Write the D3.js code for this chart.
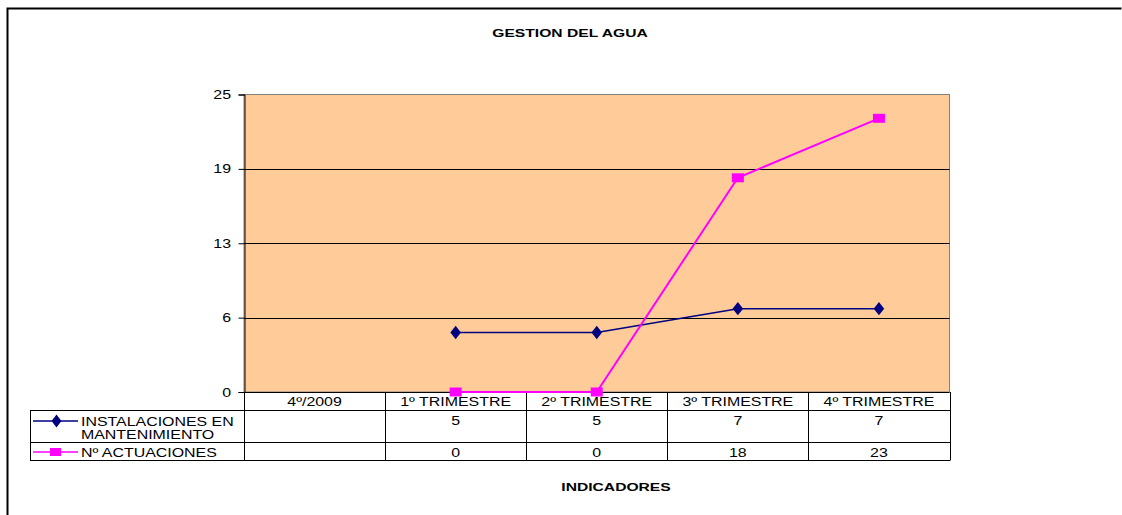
<!DOCTYPE html>
<html><head><meta charset="utf-8">
<script src="https://cdn.jsdelivr.net/npm/d3@7"></script>
<style>body{margin:0;background:#fff;}svg{display:block;font-family:"Liberation Sans",Arial,sans-serif;}</style>
</head><body>
<svg id="c" width="1122" height="515"></svg>
<script>
const categories = ["4º/2009","1º TRIMESTRE","2º TRIMESTRE","3º TRIMESTRE","4º TRIMESTRE"];
const seriesNames = ["INSTALACIONES EN|MANTENIMIENTO","Nº ACTUACIONES"];
const instalaciones = [null,5,5,7,7];
const actuaciones = [null,0,0,18,23];
const yTicks = [0,6.25,12.5,18.75,25];
const yTickLabels = ["0","6","13","19","25"];
const title = "GESTION DEL AGUA";
const xTitle = "INDICADORES";

const svg = d3.select("#c");
const L=244,R=949.5,T=94.5,B=392;
const x = d3.scaleBand().domain(categories).range([L,R]);
const y = d3.scaleLinear().domain([0,25]).range([B,T]);
const SX=1.18, SXB=1.36, FS=13.5, FSB=11.5;

function txt(g,tx,ty,s,opts={}){
  const t=g.append("text").attr("transform",`translate(${tx},${ty}) scale(${opts.bold?SXB:SX},1)`)
    .attr("font-size",opts.bold?FSB:FS).attr("text-anchor",opts.anchor||"middle").attr("fill","#000").text(s);
  if(opts.bold) t.attr("font-weight","bold");
  return t;
}

// outer border
svg.append("path").attr("d","M7.5,530V8.5H1121.5").attr("fill","none").attr("stroke","#000").attr("stroke-width",2);

txt(svg,570,37,title,{bold:true});
txt(svg,616,491,xTitle,{bold:true});

svg.append("rect").attr("x",L).attr("y",T).attr("width",R-L).attr("height",B-T).attr("fill","#FFCC99").attr("stroke","#808080");

// gridlines
svg.append("g").selectAll("line").data(yTicks.slice(1,-1)).join("line")
  .attr("x1",L).attr("x2",R).attr("y1",d=>Math.round(y(d))+0.5).attr("y2",d=>Math.round(y(d))+0.5).attr("stroke","#000");

// y axis
const yAxis = d3.axisLeft(y).tickValues(yTicks).tickFormat("").tickSize(6);
const ga = svg.append("g").attr("transform",`translate(${L+0.5},0)`).call(yAxis);
ga.select(".domain").attr("stroke","#000");
yTicks.forEach((v,i)=>txt(svg,231,y(v)+4.5,yTickLabels[i],{anchor:"end"}));

// table
const rowsY=[392,410,442,460];
const tbl = svg.append("g").attr("stroke","#000").attr("fill","none");
tbl.append("line").attr("x1",L).attr("x2",R).attr("y1",rowsY[0]+0.5).attr("y2",rowsY[0]+0.5);
rowsY.slice(1).forEach(r=>tbl.append("line").attr("x1",30).attr("x2",R+0.5).attr("y1",r+0.5).attr("y2",r+0.5));
tbl.append("line").attr("x1",30.5).attr("x2",30.5).attr("y1",410).attr("y2",460.5);
categories.forEach(c=>tbl.append("line").attr("x1",Math.round(x(c))+0.5).attr("x2",Math.round(x(c))+0.5).attr("y1",392).attr("y2",460.5));
tbl.append("line").attr("x1",Math.round(R)+0.5).attr("x2",Math.round(R)+0.5).attr("y1",392).attr("y2",460.5);

const cx = c=>x(c)+x.bandwidth()/2;
categories.forEach(c=>txt(svg,cx(c),406,c));
const vals=[instalaciones,actuaciones];
const rowTextY=[424.5,457];
vals.forEach((arr,i)=>{
  categories.forEach((c,j)=>{ if(arr[j]!=null) txt(svg,cx(c),rowTextY[i],String(arr[j])); });
});

const colors=["#000080","#FF00FF"];
// legend keys
const legY=[421,452];
seriesNames.forEach((n,i)=>{
  svg.append("line").attr("x1",33).attr("x2",78).attr("y1",legY[i]).attr("y2",legY[i]).attr("stroke",colors[i]).attr("stroke-width",1.5);
  if(i===0){
    svg.append("path").attr("d",d3.symbol(d3.symbolDiamond,70)()).attr("transform",`translate(56.5,${legY[i]}) scale(1.1,0.85)`).attr("fill",colors[i]);
  } else {
    svg.append("rect").attr("x",50).attr("y",legY[i]-4).attr("width",11).attr("height",8).attr("fill",colors[i]);
  }
  n.split("|").forEach((p,k)=>txt(svg,81,legY[i]+5+k*13,p,{anchor:"start"}));
});

// lines
vals.forEach((arr,i)=>{
  const pts=categories.map((c,j)=>({c,v:arr[j]})).filter(d=>d.v!=null);
  svg.append("path").datum(pts).attr("fill","none").attr("stroke",colors[i]).attr("stroke-width",i?2:1.6)
    .attr("d",d3.line().x(d=>cx(d.c)).y(d=>y(d.v)));
  if(i===0){
    svg.append("g").selectAll("path").data(pts).join("path")
      .attr("d",d3.symbol(d3.symbolDiamond,80)()).attr("transform",d=>`translate(${cx(d.c)},${y(d.v)}) scale(1.1,0.8)`).attr("fill",colors[i]);
  } else {
    svg.append("g").selectAll("rect").data(pts).join("rect")
      .attr("x",d=>cx(d.c)-6).attr("y",d=>y(d.v)-4.5).attr("width",12).attr("height",9).attr("fill",colors[i]);
  }
});
</script>
</body></html>
